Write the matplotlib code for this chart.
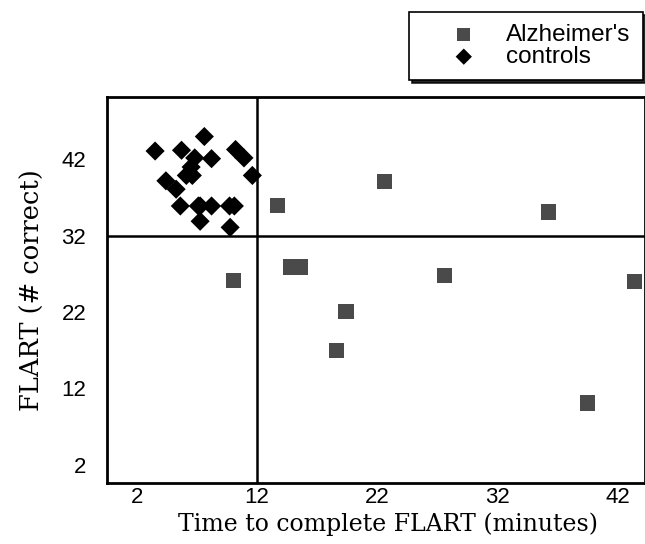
import numpy as np
import matplotlib.pyplot as plt

# Alzheimer's patients: time (minutes) and FLART score
ALZ_TIME = [13.7, 10.0, 14.8, 15.6, 22.6, 19.4, 18.6, 36.25, 27.6, 43.4, 39.5]
ALZ_SCORE = [36.0, 26.1, 27.9, 27.9, 39.1, 22.1, 17.0, 35.1, 26.8, 26.05, 10.1]

# controls
CTL_TIME = [3.5, 7.6, 5.7, 10.2, 10.9, 11.6, 8.2, 6.8, 6.5, 6.1, 6.6,
            4.4, 5.25, 5.6, 7.1, 7.25, 8.2, 7.25, 9.7, 10.1, 9.75]
CTL_SCORE = [43.1, 45.0, 43.2, 43.3, 42.2, 39.9, 42.1, 42.2, 41.0, 39.9, 39.9,
             39.2, 38.1, 35.9, 35.9, 35.9, 35.9, 33.9, 35.9, 35.9, 33.1]

TICKS = [2, 12, 22, 32, 42]
CUT_TIME = 12
CUT_SCORE = 32

plt.rcParams['font.family'] = ['Liberation Sans', 'DejaVu Sans']

fig = plt.figure(figsize=(6.45, 5.44), dpi=100)
ax = fig.add_axes([0.166, 0.112, 0.834, 0.710])

ax.scatter(ALZ_TIME, ALZ_SCORE, marker='s', s=120, color='#4a4a4a',
           edgecolors='none', label="Alzheimer's", zorder=3)
ax.scatter(CTL_TIME, CTL_SCORE, marker='D', s=95, color='black',
           edgecolors='none', label='controls', zorder=3)

# cut-off lines
ax.axvline(CUT_TIME, color='black', lw=1.8, zorder=2)
ax.axhline(CUT_SCORE, color='black', lw=1.8, zorder=2)

ax.set_xlim(-0.5, 44.3)
ax.set_ylim(-0.4, 50.2)
ax.set_xticks(TICKS)
ax.set_yticks(TICKS)
ax.tick_params(length=0, labelsize=16)
ax.tick_params(axis='x', pad=3)
ax.tick_params(axis='y', pad=15)
for s in ax.spines.values():
    s.set_linewidth(2)

ax.set_xlabel('Time to complete FLART (minutes)', family='DejaVu Serif',
              fontsize=17, labelpad=3)
ax.xaxis.label.set_x(0.522)
ax.set_ylabel('FLART (# correct)', family='DejaVu Serif', fontsize=18.5,
              labelpad=12)

leg = ax.legend(loc='upper right', bbox_to_anchor=(0.996, 1.22),
                frameon=True, fancybox=False,
                shadow={'color': 'black', 'alpha': 0.85}, fontsize=17.5,
                borderpad=0.5, handletextpad=0.0, labelspacing=0.0,
                borderaxespad=0, handlelength=3.5, markerscale=0.85)
leg.get_frame().set_edgecolor('black')
leg.get_frame().set_linewidth(1.2)

fig.savefig('out.png', dpi=100)
